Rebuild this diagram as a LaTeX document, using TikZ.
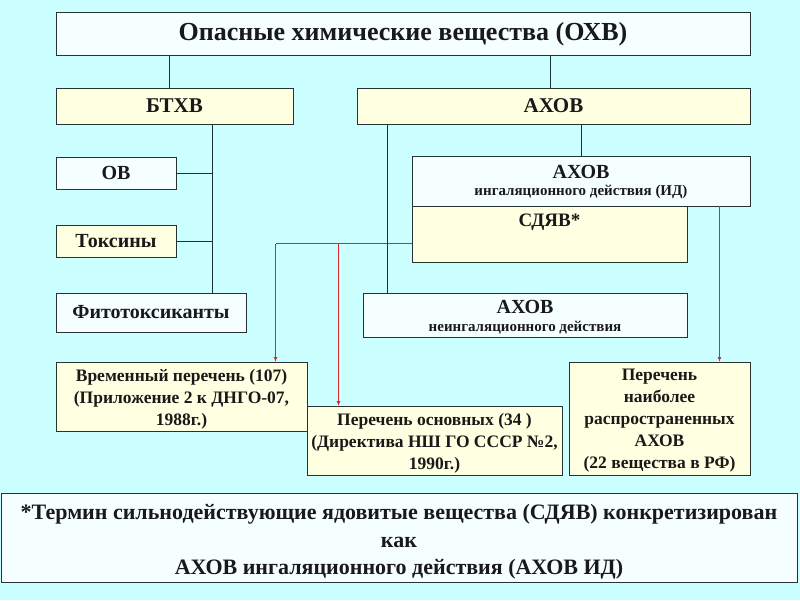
\documentclass[tikz,border=0pt]{standalone}
\usepackage{fontspec}
\setmainfont{Liberation Serif}
\usetikzlibrary{arrows.meta}
\definecolor{bgc}{RGB}{204,255,255}
\definecolor{creamc}{RGB}{255,255,225}
\definecolor{whitec}{RGB}{245,255,255}
\definecolor{edgec}{RGB}{40,50,50}
\definecolor{linec}{RGB}{25,50,50}
\definecolor{redc}{RGB}{215,40,50}
\definecolor{txtc}{RGB}{25,25,25}
\tikzset{
  fsz/.style={font={\bfseries\fontsize{#1}{#1}\selectfont}},
  fml/.style={font={\bfseries\fontsize{#1}{22}\selectfont}},
  box/.style={draw=edgec, line width=0.9pt, inner sep=0pt, outer sep=0pt, text=txtc, align=center},
  wbox/.style={box, fill=whitec},
  cbox/.style={box, fill=creamc},
  conn/.style={draw=linec, line width=0.9pt},
  rline/.style={draw=redc, line width=1.2pt},
  rconn/.style={rline, -{Latex[open, length=5pt, width=4pt]}},
  lbl/.style={inner sep=0pt, text=txtc, align=center}
}
\begin{document}
\begin{tikzpicture}[x=1pt,y=-1pt]
\fill[bgc] (0,0) rectangle (800,600);
\useasboundingbox (0,0) rectangle (800,600);

\node[wbox, minimum width=694pt, minimum height=43pt] (title) at (403,33.5) {};
\node[lbl, fsz=26] (titlet) at (403,34.5) {Опасные химические вещества (ОХВ)};
\node[cbox, fsz=21, minimum width=237pt, minimum height=36pt] (btxv) at (174.5,106) {БТХВ};
\node[cbox, fsz=21, minimum width=393pt, minimum height=36pt] (ahov) at (553.5,106) {АХОВ};

\node[wbox, fsz=20, minimum width=120pt, minimum height=32pt] (ov) at (116,173) {ОВ};
\node[cbox, fsz=20, minimum width=120pt, minimum height=32pt] (toks) at (116,241) {Токсины};
\node[wbox, fsz=20, minimum width=190pt, minimum height=39pt] (fito) at (151,312.5) {Фитотоксиканты};

\node[wbox, minimum width=338pt, minimum height=50pt] (ahovid) at (581,181) {};
\node[lbl, fsz=20] (ahovidt1) at (581,172) {АХОВ};
\node[lbl, fsz=15] (ahovidt2) at (581,192) {ингаляционного действия (ИД)};
\node[cbox, minimum width=275pt, minimum height=56pt] (sdyav) at (549.5,234) {};
\node[lbl, fsz=19] (sdyavt) at (549.5,222) {СДЯВ*};

\node[wbox, minimum width=324pt, minimum height=44pt] (nonid) at (525,315) {};
\node[lbl, fsz=20] (nonidt1) at (525,307) {АХОВ};
\node[lbl, fsz=15] (nonidt2) at (525,328) {неингаляционного действия};

\node[cbox, minimum width=251pt, minimum height=69pt] (vrem) at (181.5,396.5) {};
\node[lbl, fml=17.5] (vremt) at (181.5,399) {Временный перечень (107)\\(Приложение 2 к ДНГО-07,\\1988г.)};
\node[cbox, minimum width=255pt, minimum height=69pt] (osn) at (434.5,440.5) {};
\node[lbl, fml=17.5] (osnt) at (434.5,443) {Перечень основных (34 )\\(Директива НШ ГО СССР №2,\\1990г.)};
\node[cbox, minimum width=181pt, minimum height=113pt] (naib) at (659.5,418.5) {};
\node[lbl, fml=17.5] (naibt) at (659.5,421) {Перечень\\наиболее\\распространенных\\АХОВ\\(22 вещества в РФ)};

\node[wbox, minimum width=796pt, minimum height=89pt] (note) at (399,537.5) {};
\node[lbl, font={\bfseries\fontsize{22}{27.5}\selectfont}] (notet) at (399,542) {*Термин сильнодействующие ядовитые вещества (СДЯВ) конкретизирован\\как\\АХОВ ингаляционного действия (АХОВ ИД)};

% connectors
\draw[conn] (title.south -| btxv.north west) ++(113,0) coordinate (t1) -- (t1 |- btxv.north);
\draw[conn] (title.south -| ahov.north west) ++(193,0) coordinate (t2) -- (t2 |- ahov.north);
\draw[conn] (btxv.south west) ++(156,0) coordinate (b1) -- (b1 |- fito.north);
\draw[conn] (ov.east) -- (ov.east -| b1);
\draw[conn] (toks.east) -- (toks.east -| b1);

% red
\coordinate (r0) at (sdyav.west |- 0,243.5);
\coordinate (r1) at (275.5,243.5);
\coordinate (r2) at (338.5,243.5);
\draw[rline] (r0) -- (r1);
\draw[rconn] (r1) -- (r1 |- vrem.north);
\draw[rconn] (r2) -- (r2 |- osn.north);
\coordinate (r3) at (719.5,206);
\draw[rconn] (r3) -- (r3 |- naib.north);

\draw[conn] (ahov.south west) ++(30,0) coordinate (a1) -- (a1 |- nonid.north);
\draw[conn] (ahov.south west) ++(224,0) coordinate (a2) -- (a2 |- ahovid.north);
\end{tikzpicture}
\end{document}
